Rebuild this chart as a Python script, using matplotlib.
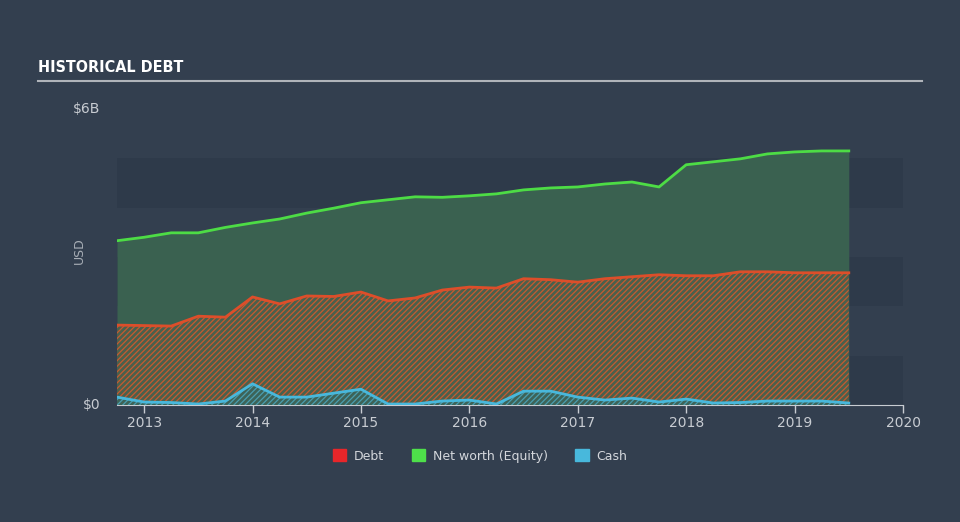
import numpy as np
import matplotlib.pyplot as plt
from matplotlib.patches import Patch

# Data (USD billions)
years = [2012.75, 2013.0, 2013.25, 2013.5, 2013.75, 2014.0, 2014.25, 2014.5, 2014.75,
         2015.0, 2015.25, 2015.5, 2015.75, 2016.0, 2016.25, 2016.5, 2016.75,
         2017.0, 2017.25, 2017.5, 2017.75, 2018.0, 2018.25, 2018.5, 2018.75,
         2019.0, 2019.25, 2019.5]
equity = [3.33, 3.40, 3.49, 3.49, 3.60, 3.69, 3.77, 3.89, 3.99,
          4.10, 4.16, 4.22, 4.21, 4.24, 4.28, 4.36, 4.40,
          4.42, 4.48, 4.52, 4.42, 4.87, 4.93, 4.99, 5.09,
          5.13, 5.15, 5.15]
debt = [1.62, 1.61, 1.60, 1.80, 1.78, 2.19, 2.05, 2.21, 2.20,
        2.29, 2.11, 2.17, 2.33, 2.39, 2.37, 2.56, 2.54,
        2.49, 2.56, 2.60, 2.64, 2.62, 2.62, 2.70, 2.70,
        2.68, 2.68, 2.68]
cash = [0.16, 0.06, 0.05, 0.02, 0.08, 0.43, 0.16, 0.16, 0.24,
        0.32, 0.02, 0.02, 0.08, 0.10, 0.02, 0.28, 0.28,
        0.16, 0.10, 0.14, 0.06, 0.12, 0.04, 0.05, 0.08,
        0.08, 0.08, 0.04]

bg = '#333f4f'
plt.rcParams['hatch.linewidth'] = 0.9

fig = plt.figure(figsize=(9.6, 5.22), dpi=100, facecolor=bg)
ax = fig.add_axes([117/960, 1 - 405/522, 786/960, 296/522])
ax.set_facecolor(bg)

# alternating bands
for lo in (0, 2, 4):
    ax.axhspan(lo, lo + 1, color='#2e3a4a', lw=0, zorder=0)

ax.fill_between(years, 0, equity, color='#3a6150', lw=0, zorder=1)
ax.fill_between(years, 0, debt, facecolor='#4a604c', edgecolor='#c65a30',
                hatch='//////', lw=0, zorder=2)
ax.fill_between(years, 0, cash, facecolor='#3d6358', edgecolor='#4a9eb0',
                hatch='//////', lw=0, zorder=3)
ax.plot(years, equity, color='#4ddc45', lw=2, zorder=4)
ax.plot(years, debt, color='#dd4e2a', lw=2, zorder=4)
ax.plot(years, cash, color='#48b8dc', lw=2, zorder=4)

ax.set_xlim(2012.75, 2020)
ax.set_ylim(0, 6)
ax.set_xticks(range(2013, 2021))
ax.set_yticks([0, 6])
ax.set_yticklabels(['$0', '$6B'])
ax.tick_params(axis='x', colors='#c8ccd2', labelsize=10, length=6, width=1, pad=2)
ax.tick_params(axis='y', colors='#c8ccd2', labelsize=10, length=0, pad=12)
for t in ax.get_yticklabels():
    t.set_verticalalignment('center')
for s in ['top', 'right', 'left']:
    ax.spines[s].set_visible(False)
ax.spines['bottom'].set_color('#c8ccd2')
ax.set_ylabel('USD', color='#a8aeb6', fontsize=9, labelpad=10)
ax.yaxis.set_label_coords(-0.04, 0.52)

# title and rule
fig.text(38/960, 1 - 68/522, 'HISTORICAL DEBT', color='white', fontsize=11.5,
         fontweight='bold', family='DejaVu Sans', fontstretch='condensed',
         va='center', ha='left')
fig.add_artist(plt.Line2D([38/960, 922/960], [1 - 81/522, 1 - 81/522],
                          color='#b0b4ba', lw=1.5))

handles = [Patch(color='#e8262a', label='Debt'),
           Patch(color='#4ee04a', label='Net worth (Equity)'),
           Patch(color='#48b8dc', label='Cash')]
leg = fig.legend(handles=handles, loc='center', bbox_to_anchor=(0.5, 1 - 456/522),
                 ncol=3, frameon=False, fontsize=9, handlelength=1.1,
                 handleheight=1.1, columnspacing=2.2, handletextpad=0.6)
for t in leg.get_texts():
    t.set_color('#d4d7dc')

fig.savefig('out.png', dpi=100, facecolor=bg)
